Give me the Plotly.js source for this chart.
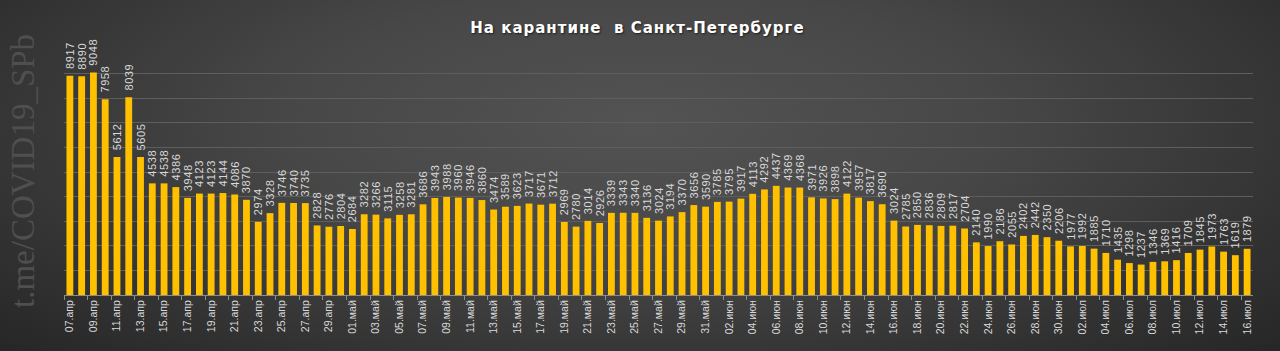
<!DOCTYPE html>
<html>
<head>
<meta charset="utf-8">
<script src="https://cdn.plot.ly/plotly-3.0.1.min.js"></script>
<style>
  html, body { margin: 0; padding: 0; }
  body {
    width: 1280px; height: 351px; overflow: hidden;
    background: radial-gradient(ellipse 70% 95% at 50% 35%, #535353 0%, #474747 40%, #333333 75%, #262626 100%);
  }
  #chart { width: 1280px; height: 351px; }
  .gtitle { letter-spacing: 1px; text-shadow: 1px 1px 2px rgba(0,0,0,0.6); }
  .bartext text, text.bartext { letter-spacing: 0.6px; }
</style>
</head>
<body>
<div id="chart"></div>
<script>
// Values
const aprValues = [8917, 8890, 9048, 7958, 5612, 8039, 5605, 4538, 4538, 4386, 3948, 4123, 4123, 4144, 4086, 3870, 2974, 3328, 3746, 3740, 3735, 2828, 2776, 2804];
const mayValues = [2684, 3282, 3266, 3115, 3258, 3281, 3686, 3943, 3988, 3960, 3946, 3860, 3474, 3589, 3623, 3717, 3671, 3712, 2969, 2780, 3014, 2926, 3339, 3343, 3340, 3136, 3024, 3194, 3370, 3656, 3590];
const junValues = [3785, 3795, 3917, 4113, 4292, 4437, 4369, 4368, 3971, 3926, 3898, 4122, 3957, 3817, 3690, 3024, 2785, 2850, 2836, 2809, 2817, 2704, 2140, 1990, 2186, 2055, 2402, 2442, 2350, 2206];
const julValues = [1977, 1992, 1885, 1710, 1435, 1298, 1237, 1346, 1369, 1416, 1709, 1845, 1973, 1763, 1619, 1879];

const monthNames = ['апр', 'май', 'июн', 'июл'];
const monthFirstDay = [7, 1, 1, 1];
const monthValues = [aprValues, mayValues, junValues, julValues];

const categories = [];
const values = [];
monthValues.forEach((arr, m) => {
  arr.forEach((v, i) => {
    const d = monthFirstDay[m] + i;
    categories.push((d < 10 ? '0' + d : '' + d) + '.' + monthNames[m]);
    values.push(v);
  });
});

const titleText = 'На карантине\u00A0\u00A0в Санкт-Петербурге';
const watermark = 't.me/COVID19_SPb';

const trace = {
  type: 'bar',
  x: categories,
  y: values,
  marker: { color: '#FFC000', line: { width: 0 } },
  text: values.map(v => '\u00A0' + v),
  textposition: 'outside',
  textangle: -90,
  constraintext: 'none',
  textfont: { family: 'Liberation Sans, Arial, sans-serif', size: 11, color: '#d9d9d9' },
  cliponaxis: false,
  hoverinfo: 'x+y'
};

const layout = {
  width: 1280,
  height: 351,
  margin: { l: 64, r: 27, t: 49, b: 56 },
  paper_bgcolor: 'rgba(0,0,0,0)',
  plot_bgcolor: 'rgba(0,0,0,0)',
  bargap: 0.42,
  showlegend: false,
  title: {
    text: titleText,
    x: 0.498,
    xanchor: 'center',
    y: 0.92,
    yanchor: 'middle',
    font: { family: 'DejaVu Sans, sans-serif', size: 15, color: '#ffffff', weight: 'bold' }
  },
  xaxis: {
    type: 'category',
    range: [-0.5, categories.length - 0.5],
    tickmode: 'linear',
    dtick: 2,
    tick0: 0,
    tickson: 'boundaries',
    ticks: 'outside',
    ticklen: 4,
    tickcolor: '#8c8c8c',
    tickangle: -90,
    tickfont: { family: 'Liberation Sans, Arial, sans-serif', size: 10.5, color: '#d9d9d9' },
    showline: true,
    linecolor: '#8c8c8c',
    linewidth: 1,
    showgrid: false,
    zeroline: false,
    fixedrange: true
  },
  yaxis: {
    range: [0, 10000],
    dtick: 1000,
    showticklabels: false,
    showgrid: true,
    gridcolor: '#5e5e5e',
    gridwidth: 1,
    zeroline: false,
    fixedrange: true
  },
  annotations: [{
    text: watermark,
    xref: 'paper', yref: 'paper',
    x: (23 - 64) / 1189, y: (295 - 171) / 246,
    xanchor: 'center', yanchor: 'middle',
    textangle: -90,
    showarrow: false,
    font: { family: 'Liberation Serif, Times New Roman, serif', size: 33, color: '#4f4f4f' }
  }]
};

Plotly.newPlot('chart', [trace], layout, { displayModeBar: false, staticPlot: true });
</script>
</body>
</html>
